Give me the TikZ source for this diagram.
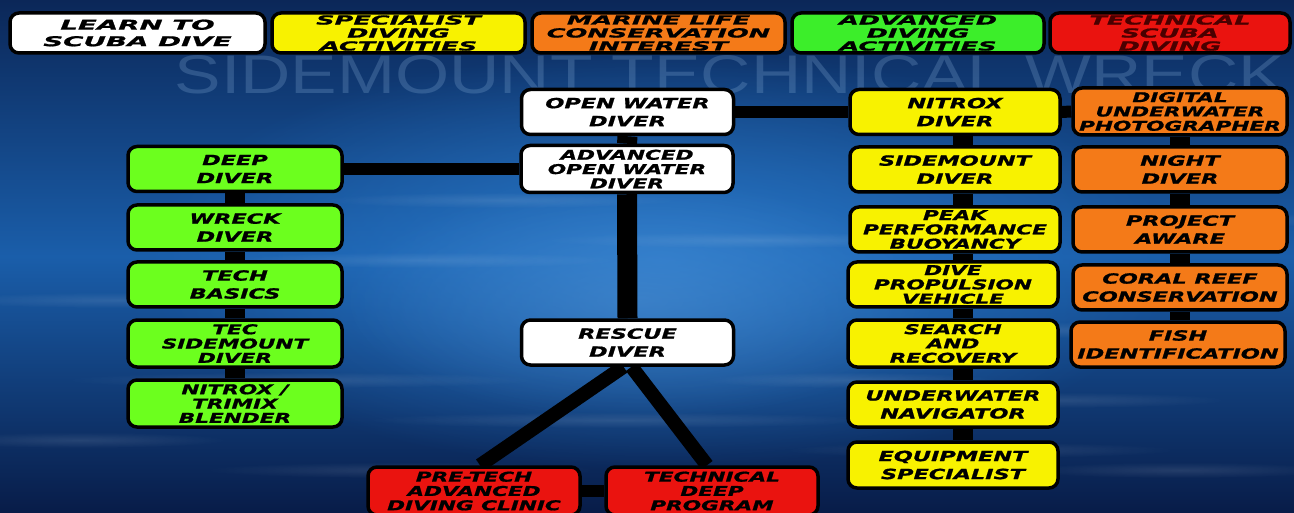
\documentclass[tikz,border=0pt]{standalone}
\usepackage{fontspec}
\usepackage{graphicx}
\usetikzlibrary{fadings}
\tikzfading[name=softglow, inner color=transparent!0, outer color=transparent!100]
\newfontfamily\disp[FakeStretch=1.6, FakeBold=1.2]{DejaVu Sans}
\newfontfamily\dispwide[FakeStretch=2.05, FakeBold=1.2]{DejaVu Sans}
\newfontfamily\wmfont{Liberation Sans}
\definecolor{bgtop}{HTML}{0B2758}
\definecolor{bgmid}{HTML}{1A5EAA}
\definecolor{bgbot}{HTML}{081C48}
\definecolor{glow}{HTML}{2A7ACB}
\definecolor{wm}{HTML}{8DB4DD}
\definecolor{yel}{HTML}{F8F200}
\definecolor{org}{HTML}{F47A18}
\definecolor{grnL}{HTML}{6CFF1E}
\definecolor{grnT}{HTML}{3CEE2A}
\definecolor{redb}{HTML}{EA130F}
\definecolor{darkred}{HTML}{4A0000}
\pgfdeclarelayer{bgl}
\pgfdeclarelayer{lines}
\pgfsetlayers{bgl,lines,main}
\begin{document}
\begin{tikzpicture}[x=1pt,y=-1pt,
  cbox/.style={draw=black, line width=3.5pt, rounded corners=9pt, align=center,
    inner sep=0pt, text=black,
    font=\disp\bfseries\itshape\fontsize{14}{18}\selectfont},
  three/.style={font=\disp\bfseries\itshape\fontsize{13.5}{14.3}\selectfont},
  topbox/.style={cbox, minimum height=40pt, font=\dispwide\bfseries\itshape\fontsize{12.5}{13}\selectfont},
  toptwo/.style={font=\dispwide\bfseries\itshape\fontsize{13.5}{16.5}\selectfont},
  midbox/.style={cbox, minimum width=212pt, minimum height=45pt},
  wb/.style={fill=white},
  yb/.style={fill=yel},
  ob/.style={fill=org},
  gb/.style={fill=grnL},
  rb/.style={fill=redb},
  hlink/.style={line width=12pt, black},
  vlink/.style={line width=20pt, black},
  dlink/.style={line width=14pt, black}]
\useasboundingbox (0,0) rectangle (1294,513);

% top legend row
\node[topbox, toptwo, wb, minimum width=255pt] (learn) at (137.5,33) {LEARN TO\\SCUBA DIVE};
\node[topbox, yb, minimum width=253pt] (spec) at (398.5,33) {SPECIALIST\\DIVING\\ACTIVITIES};
\node[topbox, ob, minimum width=253pt] (marine) at (658.5,33) {MARINE LIFE\\CONSERVATION\\INTEREST};
\node[topbox, fill=grnT, minimum width=252pt] (advdiv) at (918,33) {ADVANCED\\DIVING\\ACTIVITIES};
\node[topbox, rb, text=darkred, minimum width=240pt] (techsc) at (1170,33) {TECHNICAL\\SCUBA\\DIVING};

% central path
\node[midbox, wb] (ow) at (627.5,112) {OPEN WATER\\DIVER};
\node[midbox, three, wb, minimum height=47pt] (aow) at (627,169) {ADVANCED\\OPEN WATER\\DIVER};
\node[midbox, wb] (rescue) at (627.5,342.5) {RESCUE\\DIVER};
\node[midbox, three, rb, minimum height=48pt] (pretech) at (474,491) {PRE-TECH\\ADVANCED\\DIVING CLINIC};
\node[midbox, three, rb, minimum height=48pt] (techdeep) at (712,491) {TECHNICAL\\DEEP\\PROGRAM};

% green column
\node[midbox, gb, minimum width=214pt] (deep) at (235,169) {DEEP\\DIVER};
\node[midbox, gb, minimum width=214pt] (wreck) at (235,227.5) {WRECK\\DIVER};
\node[midbox, gb, minimum width=214pt] (tbasics) at (235,284.5) {TECH\\BASICS};
\node[midbox, three, gb, minimum width=214pt, minimum height=47pt] (tecsm) at (235,343.5) {TEC\\SIDEMOUNT\\DIVER};
\node[midbox, three, gb, minimum width=214pt, minimum height=47pt] (blender) at (235,403.5) {NITROX /\\TRIMIX\\BLENDER};

% yellow column
\node[midbox, yb, minimum width=210pt] (nitrox) at (955,112) {NITROX\\DIVER};
\node[midbox, yb, minimum width=210pt] (sidem) at (955,169.5) {SIDEMOUNT\\DIVER};
\node[midbox, three, yb, minimum width=210pt] (peak) at (955,229.5) {PEAK\\PERFORMANCE\\BUOYANCY};
\node[midbox, three, yb, minimum width=210pt] (dpv) at (953,284.5) {DIVE\\PROPULSION\\VEHICLE};
\node[midbox, three, yb, minimum width=210pt, minimum height=47pt] (sar) at (953,343.5) {SEARCH\\AND\\RECOVERY};
\node[midbox, yb, minimum width=210pt] (nav) at (953,404.5) {UNDERWATER\\NAVIGATOR};
\node[midbox, yb, minimum width=210pt, minimum height=46pt] (equip) at (953,465) {EQUIPMENT\\SPECIALIST};

% orange column
\node[midbox, three, ob, minimum width=214pt, minimum height=47pt] (digital) at (1180,111.5) {DIGITAL\\UNDERWATER\\PHOTOGRAPHER};
\node[midbox, ob, minimum width=214pt] (night) at (1180,169.5) {NIGHT\\DIVER};
\node[midbox, ob, minimum width=214pt] (aware) at (1180,229.5) {PROJECT\\AWARE};
\node[midbox, ob, minimum width=214pt] (coral) at (1180,287.5) {CORAL REEF\\CONSERVATION};
\node[midbox, ob, minimum width=214pt] (fish) at (1178,344.5) {FISH\\IDENTIFICATION};

% connectors
\begin{pgfonlayer}{lines}
\draw[hlink] (ow.east) -- (nitrox.west);
\draw[hlink] (nitrox.east) -- (digital.west);
\draw[hlink] (aow.west) -- (deep.east);
\draw[vlink] (ow.south) -- (aow.north);
\draw[vlink] (aow.south) -- (rescue.north);
\draw[dlink] ([xshift=-4pt]rescue.south) -- ([xshift=6pt]pretech.north);
\draw[dlink] ([xshift=4pt]rescue.south) -- ([xshift=-5pt]techdeep.north);
\draw[hlink] (pretech.east) -- (techdeep.west);
\draw[vlink] (deep.south) -- (wreck.north);
\draw[vlink] (wreck.south) -- (tbasics.north);
\draw[vlink] (tbasics.south) -- (tecsm.north);
\draw[vlink] (tecsm.south) -- (blender.north);
\draw[vlink] ([xshift=8pt]nitrox.south) -- ([xshift=8pt]sidem.north);
\draw[vlink] ([xshift=8pt]sidem.south) -- ([xshift=8pt]peak.north);
\draw[vlink] ([xshift=8pt]peak.south) -- ([xshift=10pt]dpv.north);
\draw[vlink] ([xshift=10pt]dpv.south) -- ([xshift=10pt]sar.north);
\draw[vlink] ([xshift=10pt]sar.south) -- ([xshift=10pt]nav.north);
\draw[vlink] ([xshift=10pt]nav.south) -- ([xshift=10pt]equip.north);
\draw[vlink] (digital.south) -- (night.north);
\draw[vlink] (night.south) -- (aware.north);
\draw[vlink] (aware.south) -- (coral.north);
\draw[vlink] (coral.south) -- ([xshift=2pt]fish.north);
\end{pgfonlayer}

% background
\begin{pgfonlayer}{bgl}
\shade[top color=bgtop, bottom color=bgbot, middle color=bgmid] (0,0) rectangle (1294,513);
\fill[glow, path fading=softglow, opacity=0.9] (660,260) ellipse [x radius=520pt, y radius=210pt];
\fill[glow!80!white, path fading=softglow, opacity=0.45] (640,300) ellipse [x radius=300pt, y radius=120pt];
\foreach \x/\y/\w in {120/300/180, 420/260/200, 760/240/220, 1100/330/200, 300/380/240, 620/420/260, 980/450/200, 1180/470/160, 80/440/150, 500/200/180, 850/380/150, 1220/220/120, 400/470/200, 1050/400/180}{
  \fill[white, opacity=0.10, path fading=softglow] (\x,\y) ellipse [x radius=\w pt, y radius=8pt];
}
\node[opacity=0.25, text=wm, inner sep=0pt] (wmark) at (730,75) {\resizebox{1110pt}{38pt}{\wmfont SIDEMOUNT TECHNICAL WRECK}};
\end{pgfonlayer}
\end{tikzpicture}
\end{document}
